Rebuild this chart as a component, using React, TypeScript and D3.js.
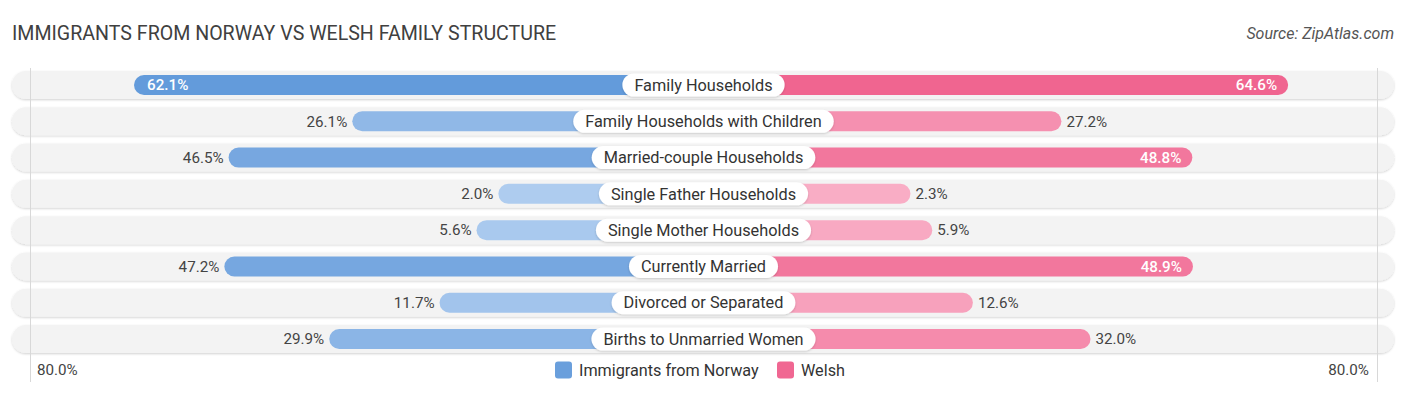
import { useEffect, useRef } from "react";
import * as d3 from "d3";

const categories = [
  "Family Households",
  "Family Households with Children",
  "Married-couple Households",
  "Single Father Households",
  "Single Mother Households",
  "Currently Married",
  "Divorced or Separated",
  "Births to Unmarried Women",
];
const norway = [62.1, 26.1, 46.5, 2.0, 5.6, 47.2, 11.7, 29.9];
const welsh = [64.6, 27.2, 48.8, 2.3, 5.9, 48.9, 12.6, 32.0];
const seriesNames = ["Immigrants from Norway", "Welsh"];
const axisMax = 80;

const W = 1406;
const H = 395;

const App = () => {
  const ref = useRef<HTMLDivElement>(null);

  useEffect(() => {
    if (!ref.current) return;
    ref.current.innerHTML = "";

    const cx = 703.5;
    const rowTop = 85;
    const rowStep = 36.29;
    const font = "Roboto, 'Open Sans', sans-serif";

    // bars start a bit away from the centre, under the label pill
    const x = d3.scaleLinear().domain([0, axisMax]).range([193, 678]);
    const y = (i: number) => rowTop + i * rowStep;

    const blue = d3.interpolateRgb("#b0cef0", "#6199da");
    const pink = d3.interpolateRgb("#f9b0c7", "#f06590");
    const shade = (v: number) => Math.min(1, v / 64);

    const svg = d3
      .create("svg")
      .attr("width", W)
      .attr("height", H)
      .attr("style", `display:block; font-family:${font};`);

    const defs = svg.append("defs");
    const f = defs
      .append("filter")
      .attr("id", "sh")
      .attr("x", "-5%")
      .attr("y", "-30%")
      .attr("width", "110%")
      .attr("height", "160%");
    f.append("feDropShadow")
      .attr("dx", 0)
      .attr("dy", 1)
      .attr("stdDeviation", 1.2)
      .attr("flood-color", "#000")
      .attr("flood-opacity", 0.18);

    // title + source
    svg
      .append("text")
      .attr("x", 12)
      .attr("y", 40)
      .attr("font-size", 19.6)
      .attr("fill", "#404040")
      .text("IMMIGRANTS FROM NORWAY VS WELSH FAMILY STRUCTURE");

    svg
      .append("text")
      .attr("x", 1394)
      .attr("y", 39)
      .attr("text-anchor", "end")
      .attr("font-size", 16)
      .attr("font-style", "italic")
      .attr("fill", "#555")
      .text("Source: ZipAtlas.com");

    // row backgrounds
    const rows = svg.append("g");
    categories.forEach((_, i) => {
      rows
        .append("rect")
        .attr("x", 12)
        .attr("y", y(i) - 14)
        .attr("width", 1382)
        .attr("height", 28)
        .attr("rx", 14)
        .attr("fill", "#f3f3f3")
        .attr("filter", "url(#sh)");
    });

    // faint gridlines near the axis ends
    [cx - x(axisMax) + 5, cx + x(axisMax) - 4].forEach((gx) => {
      svg
        .append("line")
        .attr("x1", gx)
        .attr("x2", gx)
        .attr("y1", 68)
        .attr("y2", 382)
        .attr("stroke", "#d8d8d8")
        .attr("stroke-width", 1);
    });

    const bars = svg.append("g");
    const labels = svg.append("g");
    const pills: { p: any; t: any }[] = [];

    categories.forEach((cat, i) => {
      const yc = y(i);
      const nv = norway[i];
      const wv = welsh[i];
      const nx = cx - x(nv);
      const wx = cx + x(wv);

      bars
        .append("rect")
        .attr("x", nx)
        .attr("y", yc - 10)
        .attr("width", cx - nx)
        .attr("height", 20)
        .attr("rx", 10)
        .attr("fill", blue(shade(nv)));
      bars
        .append("rect")
        .attr("x", cx)
        .attr("y", yc - 10)
        .attr("width", wx - cx)
        .attr("height", 20)
        .attr("rx", 10)
        .attr("fill", pink(shade(wv)));

      const inN = nv > 48;
      labels
        .append("text")
        .attr("x", inN ? nx + 13 : nx - 5)
        .attr("y", yc)
        .attr("dy", "0.35em")
        .attr("text-anchor", inN ? "start" : "end")
        .attr("font-size", 15.2)
        .attr("font-weight", inN ? 500 : 400)
        .attr("fill", inN ? "#fff" : "#444")
        .text(`${nv.toFixed(1)}%`);

      const inW = wv > 48;
      labels
        .append("text")
        .attr("x", inW ? wx - 11 : wx + 5)
        .attr("y", yc)
        .attr("dy", "0.35em")
        .attr("text-anchor", inW ? "end" : "start")
        .attr("font-size", 15.2)
        .attr("font-weight", inW ? 500 : 400)
        .attr("fill", inW ? "#fff" : "#444")
        .text(`${wv.toFixed(1)}%`);

      // category pill
      const pill = labels
        .append("rect")
        .attr("y", yc - 11.5)
        .attr("height", 23)
        .attr("rx", 11.5)
        .attr("fill", "#fff")
        .attr("filter", "url(#sh)");
      const t = labels
        .append("text")
        .attr("x", cx)
        .attr("y", yc)
        .attr("dy", "0.35em")
        .attr("text-anchor", "middle")
        .attr("font-size", 16.3)
        .attr("fill", "#333")
        .text(cat);
      pills.push({ p: pill, t });
    });

    // legend + axis labels
    const ly = 370;
    svg
      .append("text")
      .attr("x", 37)
      .attr("y", ly)
      .attr("dy", "0.35em")
      .attr("font-size", 15.2)
      .attr("fill", "#444")
      .text(`${axisMax.toFixed(1)}%`);
    svg
      .append("text")
      .attr("x", 1369)
      .attr("y", ly)
      .attr("dy", "0.35em")
      .attr("text-anchor", "end")
      .attr("font-size", 15.2)
      .attr("fill", "#444")
      .text(`${axisMax.toFixed(1)}%`);

    const legend = svg.append("g");
    const lx = [555, 777];
    const lc = ["#6a9fdc", "#f06792"];
    seriesNames.forEach((name, k) => {
      legend
        .append("rect")
        .attr("x", lx[k])
        .attr("y", ly - 8.5)
        .attr("width", 17)
        .attr("height", 17)
        .attr("rx", 3)
        .attr("fill", lc[k]);
      legend
        .append("text")
        .attr("x", lx[k] + 24)
        .attr("y", ly)
        .attr("dy", "0.35em")
        .attr("font-size", 16.2)
        .attr("fill", "#333")
        .text(name);
    });

    ref.current.appendChild(svg.node() as Node);

    // size the pills once text can be measured
    pills.forEach(({ p, t }) => {
      const w = (t.node() as SVGTextElement).getComputedTextLength();
      p.attr("x", cx - w / 2 - 12).attr("width", w + 24);
    });
  }, []);

  return (
    <div
      ref={ref}
      style={{ position: "absolute", left: 0, top: 0, width: W, height: H }}
    />
  );
};

export default App;
